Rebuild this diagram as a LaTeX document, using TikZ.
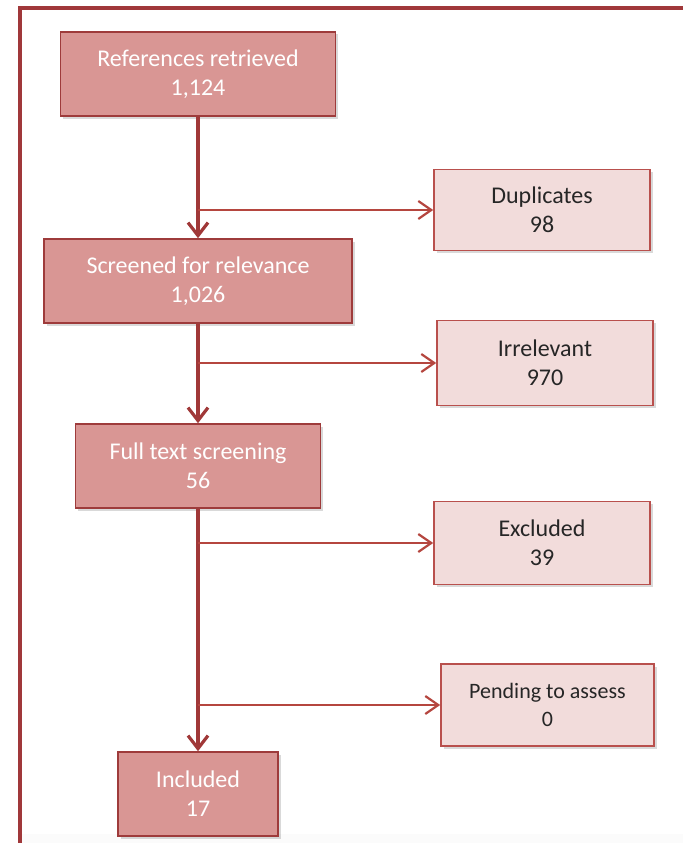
\documentclass[tikz,border=0pt]{standalone}
\usepackage{fontspec}
\setmainfont{Carlito}
\usetikzlibrary{arrows.meta,shadows}
\definecolor{frameRed}{HTML}{A0383A}
\definecolor{lineRed}{HTML}{A03838}
\definecolor{branchRed}{HTML}{B5463F}
\definecolor{mainFill}{HTML}{D99694}
\definecolor{mainEdge}{HTML}{9E3B3B}
\definecolor{sideFill}{HTML}{F2DCDB}
\definecolor{sideEdge}{HTML}{B9504D}
\definecolor{sideText}{HTML}{262626}
\tikzset{
  stagebox/.style={draw=mainEdge, line width=1.6pt, fill=mainFill, text=white,
    align=center, inner sep=0pt, font=\fontsize{24}{29}\selectfont,
    drop shadow={shadow xshift=2.5pt, shadow yshift=-2.5pt, opacity=0.3}},
  sidebox/.style={draw=sideEdge, line width=1.6pt, fill=sideFill, text=sideText,
    align=center, inner sep=0pt, font=\fontsize{24}{29}\selectfont,
    minimum width=216pt,
    drop shadow={shadow xshift=2.5pt, shadow yshift=-2.5pt, opacity=0.3}},
  flow/.style={draw=lineRed, line width=3.4pt, -{Straight Barb[length=13pt,width=20pt,line width=3.2pt]}},
  branch/.style={draw=branchRed, line width=2.2pt, -{Straight Barb[length=13pt,width=18pt,line width=2.2pt]}}
}
\begin{document}
\begin{tikzpicture}[x=1pt,y=-1pt]
  \useasboundingbox (0,0) rectangle (683,843);
  % faint band along the bottom edge
  \fill[gray!3] (20,834) rectangle (683,843);
  % outer frame (top and left edges)
  \draw[frameRed, line width=3.5pt] (20,843) -- (20,8) -- (683,8);

  % main stages
  \node[stagebox, minimum width=275pt, minimum height=84pt] (ref) at (198,74) {References retrieved\\1,124};
  \node[stagebox, minimum width=308pt, minimum height=84pt] (scr) at (198,281) {Screened for relevance\\1,026};
  \node[stagebox, minimum width=245pt, minimum height=84pt] (ful) at (198,466) {Full text screening\\56};
  \node[stagebox, minimum width=160pt, minimum height=84pt] (inc) at (198,794) {Included\\17};

  % side outcomes
  \node[sidebox, minimum height=81pt] (dup) at (542,210) {Duplicates\\98};
  \node[sidebox, minimum height=85pt] (irr) at (545,363) {Irrelevant\\970};
  \node[sidebox, minimum height=83pt] (exc) at (542,543) {Excluded\\39};
  \node[sidebox, minimum width=213pt, minimum height=82pt, font=\fontsize{22}{28}\selectfont] (pen) at (547.5,705) {Pending to assess\\0};

  % main flow
  \draw[flow] (ref.south) -- (scr.north);
  \draw[flow] (scr.south) -- (ful.north);
  \draw[flow] (ful.south) -- (inc.north);

  % branches off the main flow
  \draw[branch] (ref.south |- dup.west) -- (dup.west);
  \draw[branch] (scr.south |- irr.west) -- (irr.west);
  \draw[branch] (ful.south |- exc.west) -- (exc.west);
  \draw[branch] (ful.south |- pen.west) -- (pen.west);
\end{tikzpicture}
\end{document}
